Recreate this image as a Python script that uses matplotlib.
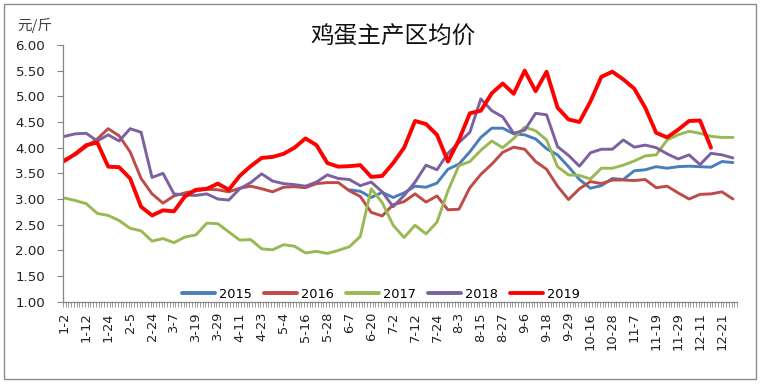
import numpy as np
import matplotlib
matplotlib.use("Agg")
import matplotlib.pyplot as plt
from matplotlib.patches import Rectangle

plt.rcParams['font.family'] = ['DejaVu Sans', 'Noto Sans CJK SC']

# ---- data ----
title = "鸡蛋主产区均价"
unit_label = "元/斤"
n_days = 246          # trading days on the category axis
sample_step = 4       # values below are read every 4th trading day
tick_labels = ["1-2", "1-12", "1-24", "2-5", "2-24", "3-7", "3-19", "3-29", "4-11",
               "4-23", "5-4", "5-16", "5-28", "6-7", "6-20", "7-2", "7-12", "7-24",
               "8-3", "8-15", "8-27", "9-6", "9-18", "9-29", "10-16", "10-28", "11-7",
               "11-19", "11-29", "12-11", "12-21"]
years = ["2015", "2016", "2017", "2018", "2019"]

nan = np.nan
p2015 = [nan] * 26 + [
    3.18, 3.15, 3.03, 3.13, 3.03, 3.12, 3.25, 3.23, 3.31, 3.58,
    3.68, 3.92, 4.20, 4.38, 4.38, 4.27, 4.25, 4.17, 3.98, 3.86,
    3.63, 3.38, 3.21, 3.26, 3.40, 3.38, 3.55, 3.57, 3.63, 3.60,
    3.63, 3.64, 3.63, 3.62, 3.73, 3.71]
p2016 = [3.77, 3.86, 4.02, 4.17, 4.37, 4.23, 3.92, 3.40, 3.10, 2.92,
         3.06, 3.12, 3.16, 3.19, 3.18, 3.14, 3.21, 3.25, 3.20, 3.14,
         3.23, 3.24, 3.22, 3.30, 3.32, 3.32, 3.16, 3.05, 2.74, 2.67,
         2.89, 2.95, 3.10, 2.94, 3.06, 2.79, 2.80, 3.22, 3.48, 3.68,
         3.91, 4.01, 3.97, 3.73, 3.58, 3.25, 2.99, 3.20, 3.34, 3.30,
         3.37, 3.37, 3.36, 3.38, 3.22, 3.25, 3.12, 3.00, 3.09, 3.10,
         3.14, 3.00]
p2017 = [3.02, 2.97, 2.91, 2.72, 2.68, 2.58, 2.43, 2.38, 2.18, 2.23,
         2.15, 2.26, 2.30, 2.53, 2.52, 2.36, 2.20, 2.21, 2.03, 2.01,
         2.11, 2.08, 1.95, 1.98, 1.94, 2.00, 2.07, 2.27, 3.20, 2.93,
         2.49, 2.25, 2.49, 2.32, 2.55, 3.16, 3.65, 3.73, 3.95, 4.13,
         4.00, 4.18, 4.40, 4.33, 4.15, 3.63, 3.47, 3.46, 3.39, 3.60,
         3.60, 3.66, 3.74, 3.84, 3.86, 4.15, 4.25, 4.32, 4.28, 4.22,
         4.20, 4.20]
p2018 = [4.22, 4.27, 4.28, 4.13, 4.25, 4.13, 4.37, 4.30, 3.42, 3.50,
         3.10, 3.08, 3.07, 3.10, 3.00, 2.98, 3.20, 3.32, 3.49, 3.35,
         3.30, 3.28, 3.25, 3.33, 3.47, 3.40, 3.38, 3.26, 3.33, 3.14,
         2.85, 3.07, 3.33, 3.66, 3.57, 3.89, 4.10, 4.30, 4.95, 4.72,
         4.60, 4.28, 4.34, 4.67, 4.64, 4.02, 3.85, 3.64, 3.90, 3.97,
         3.97, 4.15, 4.01, 4.05, 4.00, 3.88, 3.78, 3.86, 3.67, 3.89,
         3.86, 3.80]
p2019 = [3.74, 3.88, 4.05, 4.10, 3.63, 3.62, 3.40, 2.85, 2.68, 2.78,
         2.76, 3.05, 3.18, 3.20, 3.30, 3.18, 3.45, 3.64, 3.80, 3.82,
         3.88, 4.00, 4.18, 4.05, 3.70, 3.63, 3.64, 3.66, 3.43, 3.45,
         3.70, 4.00, 4.52, 4.46, 4.25, 3.73, 4.15, 4.67, 4.72, 5.06,
         5.25, 5.05, 5.50, 5.10, 5.48, 4.78, 4.55, 4.50, 4.90, 5.38,
         5.48, 5.33, 5.15, 4.78, 4.29, 4.20, 4.35, 4.52, 4.53, 4.00]

series = [p2015, p2016, p2017, p2018, p2019]
colors = ["#4A7EBB", "#BE4B48", "#98B954", "#7D60A0", "#FF0000"]
widths = [2.1, 2.1, 2.1, 2.1, 2.8]

# ---- figure ----
fig = plt.figure(figsize=(7.65, 3.9), dpi=100)
fig.patches.append(Rectangle((4 / 765, 1 - 379 / 390), 752 / 765, 375 / 390,
                             transform=fig.transFigure, fill=False,
                             edgecolor="#8C8C8C", linewidth=1.0))
ax = fig.add_axes([63 / 765, 1 - 301.7 / 390, 674 / 765, (301.7 - 45) / 390])

for name, vals, c, lw in zip(years, series, colors, widths):
    x = np.arange(len(vals)) * sample_step
    ax.plot(x, vals, color=c, linewidth=lw, label=name,
            solid_joinstyle="round", solid_capstyle="round")

ax.set_xlim(-0.5, n_days - 0.5)
ax.set_ylim(1.0, 6.0)

# y axis
ax.set_yticks(np.arange(1.0, 6.01, 0.5))
ax.set_yticklabels([f"{v:.2f}" for v in np.arange(1.0, 6.01, 0.5)])
ax.tick_params(axis="y", direction="out", length=4.3, width=0.8, color="#868686",
               pad=8.5, labelsize=9.6, labelcolor="#222222")

# x axis
ax.set_xticks(np.arange(len(tick_labels)) * 8)
ax.set_xticklabels(tick_labels, rotation=90)
ax.set_xticks(np.arange(-0.5, n_days, 1), minor=True)
ax.tick_params(axis="x", which="major", length=0, pad=7.5, labelsize=9.4,
               labelcolor="#222222")
ax.tick_params(axis="x", which="minor", direction="out", length=3.6, width=0.6,
               color="#868686")

for s in ["top", "right"]:
    ax.spines[s].set_visible(False)
for s in ["left", "bottom"]:
    ax.spines[s].set_color("#868686")
    ax.spines[s].set_linewidth(0.9)

# texts
fig.text(393 / 765, 1 - 37 / 390, title, ha="center", va="center",
         fontsize=17, family=["Noto Sans CJK SC", "DejaVu Sans"], color="#111111")
fig.text(17 / 765, 1 - 25 / 390, unit_label, ha="left", va="center",
         fontsize=10.5, family=["Noto Sans CJK SC", "DejaVu Sans"], color="#404040")

leg = ax.legend(loc="center", bbox_to_anchor=(381 / 765, 1 - 294 / 390),
                bbox_transform=fig.transFigure, ncol=5, frameon=False,
                fontsize=9.3, handlelength=2.6, handletextpad=0.3,
                columnspacing=0.9, borderaxespad=0)
for h in leg.get_lines():
    h.set_linewidth(2.8)

fig.savefig("out.png", dpi=100)
